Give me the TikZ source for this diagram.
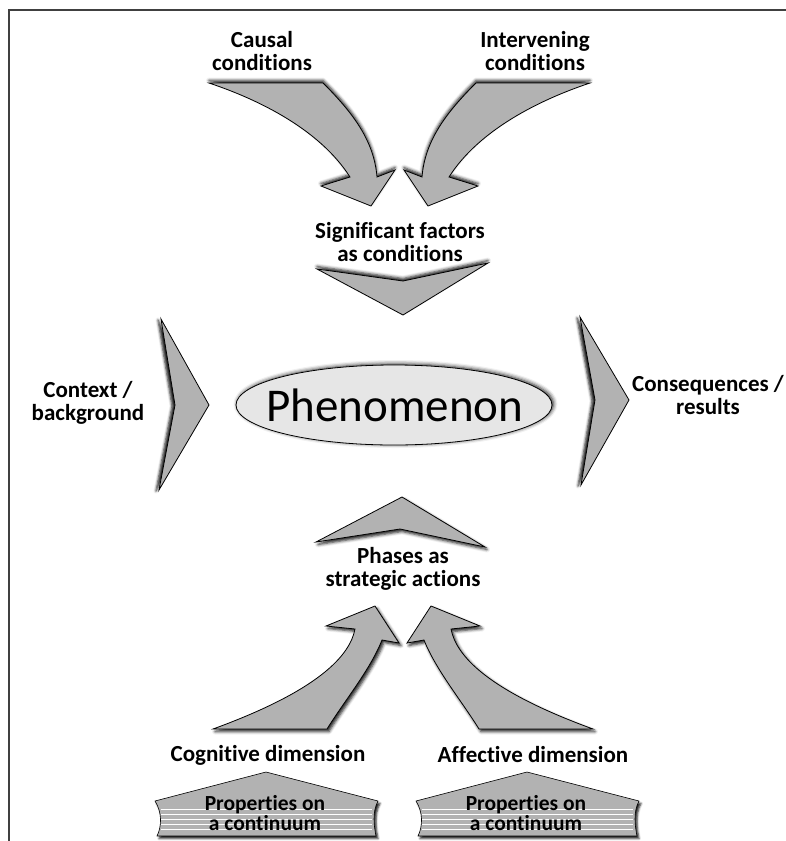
\documentclass[tikz,border=0pt]{standalone}
\usepackage{fontspec}
\setmainfont{Carlito}[Ligatures=NoCommon]
\usetikzlibrary{shadows.blur}
\definecolor{arrowgray}{HTML}{B2B2B2}
\definecolor{ovalgray}{HTML}{E6E6E6}
\definecolor{framegray}{HTML}{404040}
\tikzset{
  gshape/.style={fill=arrowgray, draw=black, line width=0.8pt},
  shup/.style={blur shadow={shadow xshift=0pt, shadow yshift=2.5pt, shadow blur radius=3pt, shadow opacity=90}},
  shdown/.style={blur shadow={shadow xshift=2pt, shadow yshift=-2.5pt, shadow blur radius=3pt, shadow opacity=90}},
  shleft/.style={blur shadow={shadow xshift=-3pt, shadow yshift=-1pt, shadow blur radius=2.5pt, shadow opacity=90}},
  lab/.style={font=\bfseries\fontsize{23}{22.5}\selectfont, align=center, inner sep=0pt},
  proplab/.style={font=\bfseries\fontsize{21.5}{19.5}\selectfont, align=center, inner sep=0pt},
  stripe/.style={draw=white, line width=0.9pt},
}
\begin{document}
\begin{tikzpicture}[x=1pt, y=-1pt]
\useasboundingbox (0,0) rectangle (786,841);
% frame lines
\draw[framegray, line width=1.3pt] (8,10) -- (786,10);
\draw[framegray, line width=1.3pt] (9,10) -- (9,841);

% curved arrows from the top
\path[gshape, shup] (209,83) -- (323,83) .. controls (352,112) and (374,140) .. (377,177)
  -- (395,170) -- (371,206) -- (321,186) -- (350,177)
  .. controls (320,130) and (260,100) .. (209,83) -- cycle;
\path[gshape, shup] (590,83) -- (476,83) .. controls (447,112) and (425,140) .. (422,177)
  -- (404,170) -- (428,206) -- (478,186) -- (449,177)
  .. controls (479,130) and (539,100) .. (590,83) -- cycle;

% chevrons round the phenomenon
\path[gshape, shup] (317,269) -- (403,281) -- (488,263) -- (403,315) -- cycle;
\path[gshape, shdown] (402,497) -- (485,547) -- (400,529) -- (316,542) -- cycle;
\path[gshape, shleft] (161,319) -- (209,405) -- (159,490) -- (175,405) -- cycle;
\path[gshape, shleft] (580,317) -- (629,400) -- (581,485) -- (595,400) -- cycle;

% central ellipse
\path[fill=ovalgray, draw=black, line width=0.8pt,
  blur shadow={shadow xshift=1.5pt, shadow yshift=1pt, shadow blur radius=4pt, shadow opacity=90}]
  (394,405) ellipse [x radius=158, y radius=40];
\node (phen) at (395,405) {\fontsize{47}{50}\selectfont Phenomenon};

% curved arrows from the bottom
\path[gshape, shdown] (213,729) -- (327,729) .. controls (345,700) and (370,670) .. (382,640)
  -- (399,643) -- (375,606) -- (326,626) -- (355,629)
  .. controls (350,655) and (320,690) .. (213,729) -- cycle;
\path[gshape, shdown] (593,729) -- (479,729) .. controls (461,700) and (436,670) .. (424,640)
  -- (407,643) -- (431,606) -- (480,626) -- (451,629)
  .. controls (456,655) and (486,690) .. (593,729) -- cycle;

% property blocks
\foreach \cx/\nm in {266/pa, 527/pb}{
  \begin{scope}[shift={(\cx,0)}]
    \path[gshape, line width=0.6pt,
      blur shadow={shadow xshift=2pt, shadow yshift=-2.5pt, shadow blur radius=2pt, shadow opacity=90}]
      (-111,801) -- (0,772) -- (112,801)
      .. controls (106,812) and (108,826) .. (110,836)
      -- (-109,836) .. controls (-104,826) and (-104,812) .. (-111,801) -- cycle;
    \foreach \yy in {809,814,819,824,829}
      \draw[stripe] (-105,\yy) -- (106,\yy);
    \node[proplab] (\nm) at (-1,813) {Properties on\\a continuum};
  \end{scope}
}

% labels
\node[lab] (causal) at (262,51) {Causal\\conditions};
\node[lab] (interv) at (535,51) {Intervening\\conditions};
\node[lab] (signif) at (400,242) {Significant factors\\as conditions};
\node[lab] (context) at (88,403) {Context /\\background};
\node[lab] (conseq) at (708,395) {Consequences /\\results};
\node[lab] (phases) at (403,569) {Phases as\\strategic actions};
\node[lab] (cogn) at (268,755) {Cognitive dimension};
\node[lab] (affect) at (533,755) {Affective dimension};
\end{tikzpicture}
\end{document}
